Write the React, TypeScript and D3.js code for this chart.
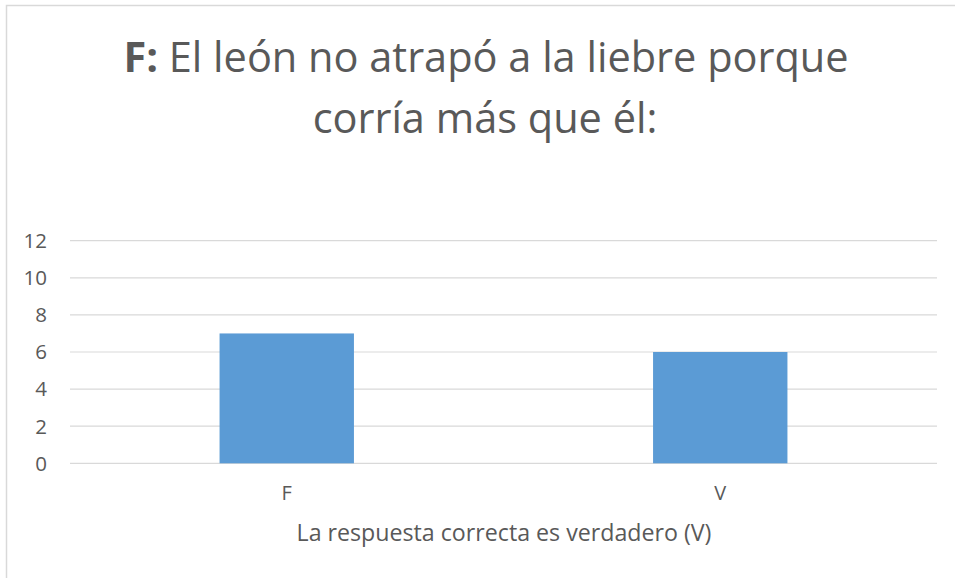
import { useEffect, useRef } from 'react'
import * as d3 from 'd3'

const W = 955
const H = 578

const categories = ['F', 'V']
const counts = [7, 6]
const yTicks = [0, 2, 4, 6, 8, 10, 12]
const titleBold = 'F:'
const titleLine1 = ' El león no atrapó a la liebre porque'
const titleLine2 = 'corría más que él:'
const xTitle = 'La respuesta correcta es verdadero (V)'

const FONT = '"Open Sans", "Noto Sans", sans-serif'
const TEXT = '#595959'
const GRID = '#d9d9d9'
const BAR = '#5b9bd5'

export default function App() {
  const svgRef = useRef<SVGSVGElement>(null)

  useEffect(() => {
    if (!svgRef.current) return
    const svg = d3.select(svgRef.current)
    svg.selectAll('*').remove()

    const left = 70
    const right = 937
    const top = 240.7
    const bottom = 463.3

    svg.append('rect').attr('width', W).attr('height', H).attr('fill', '#fff')

    // chart frame (cut off at right and bottom in the original)
    svg.append('path')
      .attr('d', `M6.5,${H} V5.5 H${W}`)
      .attr('fill', 'none')
      .attr('stroke', GRID)
      .attr('stroke-width', 1.5)

    const x = d3.scaleBand<string>().domain(categories).range([left, right]).paddingInner(0.69).paddingOuter(0.345)
    const y = d3.scaleLinear().domain([0, 12]).range([bottom, top])

    // gridlines
    svg.append('g')
      .selectAll('line')
      .data(yTicks)
      .join('line')
      .attr('x1', left)
      .attr('x2', right)
      .attr('y1', (d) => y(d))
      .attr('y2', (d) => y(d))
      .attr('stroke', GRID)
      .attr('stroke-width', 1.2)

    // y tick labels
    svg.append('g')
      .selectAll('text')
      .data(yTicks)
      .join('text')
      .attr('x', 47)
      .attr('y', (d) => y(d))
      .attr('dy', '0.36em')
      .attr('text-anchor', 'end')
      .attr('font-family', FONT)
      .attr('font-size', 20.5)
      .attr('fill', TEXT)
      .text((d) => d)

    // bars
    svg.append('g')
      .selectAll('rect')
      .data(counts)
      .join('rect')
      .attr('x', (_, i) => x(categories[i])!)
      .attr('width', x.bandwidth())
      .attr('y', (d) => y(d))
      .attr('height', (d) => y(0) - y(d))
      .attr('fill', BAR)

    // category labels
    svg.append('g')
      .selectAll('text')
      .data(categories)
      .join('text')
      .attr('x', (d) => x(d)! + x.bandwidth() / 2)
      .attr('y', 500)
      .attr('text-anchor', 'middle')
      .attr('font-family', FONT)
      .attr('font-size', 20)
      .attr('fill', TEXT)
      .text((d) => d)

    // axis title
    svg.append('text')
      .attr('x', 504)
      .attr('y', 541)
      .attr('text-anchor', 'middle')
      .attr('font-family', FONT)
      .attr('font-size', 23.2)
      .attr('fill', TEXT)
      .text(xTitle)

    // chart title
    const t = svg.append('text')
      .attr('text-anchor', 'middle')
      .attr('font-family', FONT)
      .attr('font-size', 41.5)
      .attr('fill', TEXT)
    const l1 = t.append('tspan').attr('x', 486).attr('y', 72)
    l1.append('tspan').attr('font-weight', 'bold').text(titleBold)
    l1.append('tspan').text(titleLine1)
    t.append('tspan').attr('x', 485).attr('y', 133).text(titleLine2)
  }, [])

  return (
    <svg
      ref={svgRef}
      width={W}
      height={H}
      style={{ position: 'absolute', left: 0, top: 0, display: 'block' }}
    />
  )
}
